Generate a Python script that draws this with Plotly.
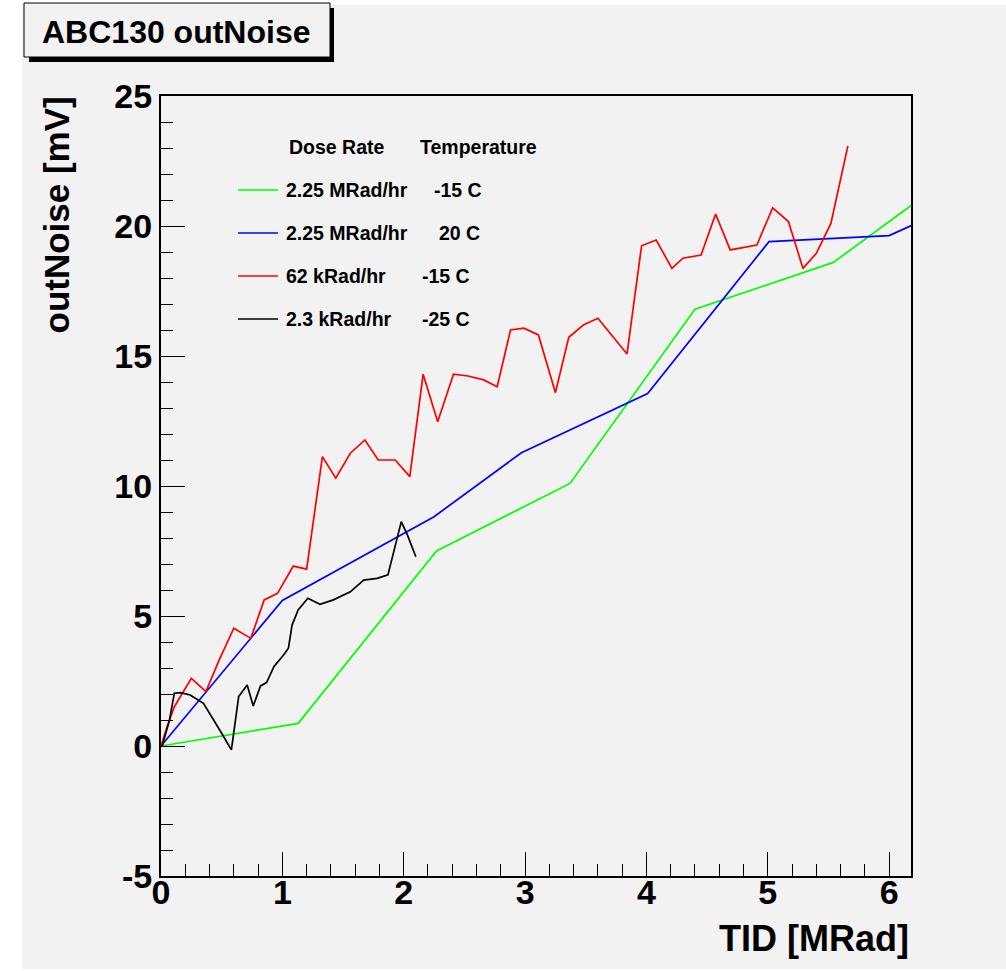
import plotly.graph_objects as go

# ---------------- data ----------------
green_x = [0.0, 1.13, 2.27, 3.37, 4.40, 5.54, 6.20]
green_y = [0.0, 0.87, 7.50, 10.10, 16.80, 18.60, 20.85]

blue_x = [0.0, 1.00, 2.25, 2.97, 4.01, 5.01, 6.00, 6.20]
blue_y = [0.0, 5.60, 8.82, 11.28, 13.56, 19.40, 19.63, 20.05]

red_x = [0.0, 0.05, 0.11, 0.18, 0.25, 0.37, 0.48, 0.60, 0.74, 0.85, 0.96, 1.09,
         1.20, 1.33, 1.44, 1.56, 1.68, 1.79, 1.93, 2.05, 2.16, 2.28, 2.41, 2.53,
         2.66, 2.77, 2.88, 2.99, 3.11, 3.25, 3.36, 3.48, 3.60, 3.84, 3.96, 4.08,
         4.21, 4.30, 4.45, 4.57, 4.69, 4.91, 5.04, 5.17, 5.29, 5.40, 5.52, 5.66]
red_y = [0.0, 0.74, 1.51, 2.03, 2.60, 2.09, 3.31, 4.53, 4.14, 5.62, 5.87, 6.92,
         6.80, 11.13, 10.30, 11.26, 11.77, 11.00, 11.00, 10.36, 14.30, 12.47, 14.30, 14.23,
         14.08, 13.82, 16.00, 16.07, 15.81, 13.59, 15.72, 16.19, 16.45, 15.08, 19.24, 19.46,
         18.37, 18.76, 18.88, 20.46, 19.08, 19.27, 20.70, 20.17, 18.37, 18.95, 20.10, 23.08]

black_x = [0.01, 0.07, 0.11, 0.16, 0.24, 0.35, 0.50, 0.58, 0.64, 0.71, 0.76, 0.82,
           0.87, 0.93, 1.01, 1.05, 1.08, 1.13, 1.21, 1.31, 1.42, 1.56, 1.67, 1.78,
           1.87, 1.93, 1.98, 2.03, 2.10]
black_y = [0.0, 1.00, 2.03, 2.05, 1.96, 1.64, 0.49, -0.15, 1.90, 2.35, 1.54, 2.31,
           2.44, 3.05, 3.50, 3.76, 4.65, 5.23, 5.68, 5.45, 5.62, 5.93, 6.38, 6.45,
           6.58, 7.67, 8.63, 8.12, 7.28]

series_names = ["2.25 MRad/hr", "2.25 MRad/hr", "62 kRad/hr", "2.3 kRad/hr"]
series_temps = ["-15 C", "20 C", "-15 C", "-25 C"]
series_colors = ["#00ff00", "#0000ff", "#ff0000", "#000000"]
series_x = [green_x, blue_x, red_x, black_x]
series_y = [green_y, blue_y, red_y, black_y]

x_tickvals = [0, 1, 2, 3, 4, 5, 6]
x_ticktext = ["0", "1", "2", "3", "4", "5", "6"]
y_tickvals = [-5, 0, 5, 10, 15, 20, 25]
y_ticktext = ["-5", "0", "5", "10", "15", "20", "25"]

title_text = "ABC130 outNoise"
x_title = "TID [MRad]"
y_title = "outNoise [mV]"
legend_header = ["Dose Rate", "Temperature"]

# ---------------- layout helpers ----------------
W, H = 1006, 971
L, R, T, B = 161, 95, 96, 95
PW, PH = W - L - R, H - T - B
BG = "#f2f2f2"
FONT = "Liberation Sans"


def px(x):
    return (x - L) / PW


def py(y):
    return (H - B - y) / PH


fig = go.Figure()
for nm, xs, ys, c in zip(series_names, series_x, series_y, series_colors):
    fig.add_trace(go.Scatter(x=xs, y=ys, mode="lines", name=nm,
                             line=dict(color=c, width=1.7), showlegend=False,
                             hoverinfo="skip"))

tickfont = dict(family=FONT, size=34, color="black", weight="bold")
axis_common = dict(ticks="inside", ticklen=24, tickwidth=1, tickcolor="black",
                   showline=True, linewidth=2, linecolor="black", mirror=True,
                   showgrid=False, zeroline=False, tickfont=tickfont,
                   tickmode="array")

fig.update_layout(
    width=W, height=H,
    margin=dict(l=L, r=R, t=T, b=B, pad=0),
    paper_bgcolor="white", plot_bgcolor=BG,
    xaxis=dict(range=[0, 6.18], tickvals=x_tickvals, ticktext=x_ticktext,
               ticklabelstandoff=-15,
               minor=dict(tick0=0, dtick=0.2, ticks="inside", ticklen=12, tickwidth=1,
                          tickcolor="black", showgrid=False),
               **axis_common),
    yaxis=dict(range=[-5, 25], tickvals=y_tickvals, ticktext=y_ticktext,
               ticklabelstandoff=0,
               minor=dict(tick0=0, dtick=1, ticks="inside", ticklen=12, tickwidth=1,
                          tickcolor="black", showgrid=False),
               **axis_common),
)

shapes = [
    # grey canvas
    dict(type="rect", xref="paper", yref="paper", x0=px(22), x1=px(1006),
         y0=py(969), y1=py(5), fillcolor=BG, line=dict(width=0), layer="below"),
    # title shadow
    dict(type="rect", xref="paper", yref="paper", x0=px(29), x1=px(334),
         y0=py(62), y1=py(8), fillcolor="black", line=dict(width=0), layer="below"),
    # title box
    dict(type="rect", xref="paper", yref="paper", x0=px(24), x1=px(330),
         y0=py(57), y1=py(3), fillcolor=BG, line=dict(color="black", width=1),
         layer="below"),
]

annotations = [
    dict(text=title_text, xref="paper", yref="paper", x=px(176), y=py(32),
         xanchor="center", yanchor="middle", showarrow=False,
         font=dict(family=FONT, size=32, color="black", weight="bold")),
    dict(text=x_title, xref="paper", yref="paper", x=px(911), y=py(938),
         xanchor="right", yanchor="middle", showarrow=False,
         font=dict(family=FONT, size=36, color="black", weight="bold")),
    dict(text=y_title, xref="paper", yref="paper", x=px(56), y=py(94),
         xanchor="center", yanchor="top", textangle=-90, showarrow=False,
         font=dict(family=FONT, size=35, color="black", weight="bold")),
]

legfont = dict(family=FONT, size=19.5, color="black", weight="bold")
annotations.append(dict(text=legend_header[0], xref="paper", yref="paper",
                        x=px(287), y=py(147), xanchor="left", yanchor="middle",
                        showarrow=False, font=legfont))
annotations.append(dict(text=legend_header[1], xref="paper", yref="paper",
                        x=px(418), y=py(147), xanchor="left", yanchor="middle",
                        showarrow=False, font=legfont))
row_y = [190, 233, 276, 319]
temp_x = [432, 437, 420, 420]
for i, (nm, tp, c) in enumerate(zip(series_names, series_temps, series_colors)):
    yy = py(row_y[i])
    shapes.append(dict(type="line", xref="paper", yref="paper", x0=px(238), x1=px(278),
                       y0=yy, y1=yy, line=dict(color=c, width=1.7)))
    annotations.append(dict(text=nm, xref="paper", yref="paper", x=px(284), y=yy,
                            xanchor="left", yanchor="middle", showarrow=False, font=legfont))
    annotations.append(dict(text=tp, xref="paper", yref="paper", x=px(temp_x[i]), y=yy,
                            xanchor="left", yanchor="middle", showarrow=False, font=legfont))

fig.update_layout(shapes=shapes, annotations=annotations)
fig.write_html("out.html")
